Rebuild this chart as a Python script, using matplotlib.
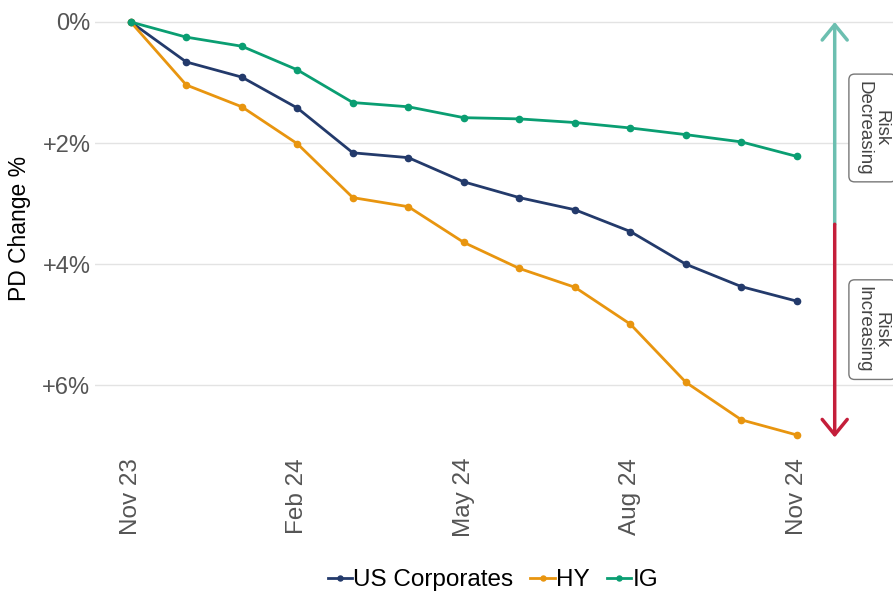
import numpy as np
import matplotlib.pyplot as plt

plt.rcParams['font.family'] = ['Liberation Sans', 'DejaVu Sans']

months = ['Nov 23', 'Dec 23', 'Jan 24', 'Feb 24', 'Mar 24', 'Apr 24', 'May 24',
          'Jun 24', 'Jul 24', 'Aug 24', 'Sep 24', 'Oct 24', 'Nov 24']
us_corp = [0, 0.66, 0.91, 1.42, 2.16, 2.24, 2.64, 2.90, 3.10, 3.46, 4.00, 4.37, 4.61]
hy = [0, 1.04, 1.40, 2.01, 2.90, 3.05, 3.64, 4.07, 4.38, 4.99, 5.95, 6.57, 6.82]
ig = [0, 0.25, 0.40, 0.79, 1.33, 1.40, 1.58, 1.60, 1.66, 1.75, 1.86, 1.98, 2.22]
yticks = [0, 2, 4, 6]
ytick_labels = ['0%', '+2%', '+4%', '+6%']

c_us = '#233a6b'
c_hy = '#e8950f'
c_ig = '#0a9e72'

fig = plt.figure(figsize=(8.93, 5.92), dpi=100)
ax = fig.add_axes([0.106, 0.257, 0.894, 0.713])

x = np.arange(len(months))
ax.plot(x, us_corp, color=c_us, lw=2, marker='o', ms=4.5, label='US Corporates', zorder=3)
ax.plot(x, hy, color=c_hy, lw=2, marker='o', ms=4.5, label='HY', zorder=3)
ax.plot(x, ig, color=c_ig, lw=2, marker='o', ms=4.5, label='IG', zorder=3)

ax.set_xlim(-0.65, 13.73)
ax.set_ylim(6.9, -0.07)

ax.set_yticks(yticks)
ax.set_yticklabels(ytick_labels)
tick_idx = [0, 3, 6, 9, 12]
ax.set_xticks(tick_idx)
ax.set_xticklabels([months[i] for i in tick_idx], rotation=90)
ax.tick_params(axis='both', length=0, labelsize=17, labelcolor='#555555')
ax.tick_params(axis='x', labelsize=17.5, pad=13)
ax.tick_params(axis='y', pad=3)
ax.grid(axis='y', color='#e3e3e3', lw=1)
ax.set_axisbelow(True)
for s in ax.spines.values():
    s.set_visible(False)

ax.set_ylabel('PD Change %', fontsize=16.5, color='black', labelpad=8)

# risk arrows
ax_x = 12.68
split = 3.34
head = '->,head_length=1.1,head_width=0.9'
ax.annotate('', xy=(ax_x, 0.0), xytext=(ax_x, split),
            arrowprops=dict(arrowstyle=head, color='#6cbfb0', lw=2.5, mutation_scale=10,
                            shrinkA=0, shrinkB=0),
            annotation_clip=False)
ax.annotate('', xy=(ax_x, 6.86), xytext=(ax_x, split),
            arrowprops=dict(arrowstyle=head, color='#c41e3a', lw=2.5, mutation_scale=10,
                            shrinkA=0, shrinkB=0),
            annotation_clip=False)

box = dict(boxstyle='round,pad=0.35,rounding_size=0.3', fc='white', ec='#777777', lw=1)
ax.text(13.36, 1.75, 'Risk\nDecreasing', rotation=-90, ha='center', va='center',
        fontsize=13.5, color='#444444', bbox=box, linespacing=1.0)
ax.text(13.36, 5.08, 'Risk\nIncreasing', rotation=-90, ha='center', va='center',
        fontsize=13.5, color='#444444', bbox=box, linespacing=1.0)

fig.legend(loc='lower center', bbox_to_anchor=(0.552, -0.036), ncol=3, frameon=False,
           fontsize=17.5, handlelength=1.0, handletextpad=0.05, columnspacing=0.7,
           markerscale=0.8)

fig.savefig('out.png', dpi=100)
